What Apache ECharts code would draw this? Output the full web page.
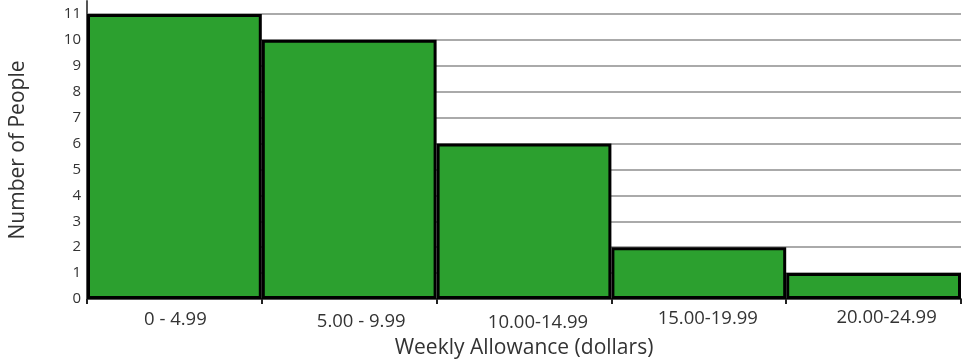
<!DOCTYPE html>
<html>
<head>
<meta charset="utf-8">
<script src="https://cdn.jsdelivr.net/npm/echarts@6/dist/echarts.min.js"></script>
<style>
  html, body { margin: 0; padding: 0; background: #fff; }
  #chart { width: 969px; height: 364px; }
</style>
</head>
<body>
<div id="chart"></div>
<script>
// Weekly allowance histogram
const bins = ['0 - 4.99', '5.00 - 9.99', '10.00-14.99', '15.00-19.99', '20.00-24.99'];
const counts = [11, 10, 6, 2, 1];

// small per-label nudges [dx, dy] for the bin captions
const labelNudge = [[1, 2], [12, 4], [14, 5], [9, 1], [13, 0]];

const categoryData = bins.map((b, i) => ({
  value: b,
  textStyle: {
    padding: [labelNudge[i][1], 0, 0, labelNudge[i][0] * 2]
  }
}));

const chart = echarts.init(document.getElementById('chart'), null, { renderer: 'canvas' });
chart.setOption({
  animation: false,
  textStyle: { fontFamily: 'Open Sans' },
  grid: { left: 86, right: 8, top: 1, bottom: 64, containLabel: false },
  xAxis: {
    type: 'category',
    data: categoryData,
    name: 'Weekly Allowance (dollars)',
    nameLocation: 'middle',
    nameGap: 39,
    nameTextStyle: { fontSize: 21, color: '#333', fontFamily: 'Open Sans' },
    axisLine: { lineStyle: { color: '#555', width: 2 } },
    axisTick: { show: true, alignWithLabel: false, length: 5, lineStyle: { color: '#222', width: 2 } },
    axisLabel: { fontSize: 18.5, color: '#333', margin: 9, fontFamily: 'Open Sans' }
  },
  yAxis: {
    type: 'value',
    min: 0,
    max: 11.5,
    interval: 1,
    name: 'Number of People',
    nameLocation: 'middle',
    nameGap: 58,
    nameTextStyle: { fontSize: 21, color: '#333', fontFamily: 'Open Sans' },
    axisLine: { show: true, lineStyle: { color: '#555', width: 2 } },
    axisTick: { show: false },
    axisLabel: { fontSize: 15, color: '#333', margin: 6, showMaxLabel: false, fontFamily: 'Open Sans' },
    splitLine: { show: true, showMaxLine: false, showMinLine: false, lineStyle: { color: '#aaa', width: 2 } }
  },
  series: [{
    type: 'bar',
    data: counts,
    barCategoryGap: '0%',
    itemStyle: { color: '#2ca02f', borderColor: '#000', borderWidth: 3 }
  }]
});
</script>
</body>
</html>
